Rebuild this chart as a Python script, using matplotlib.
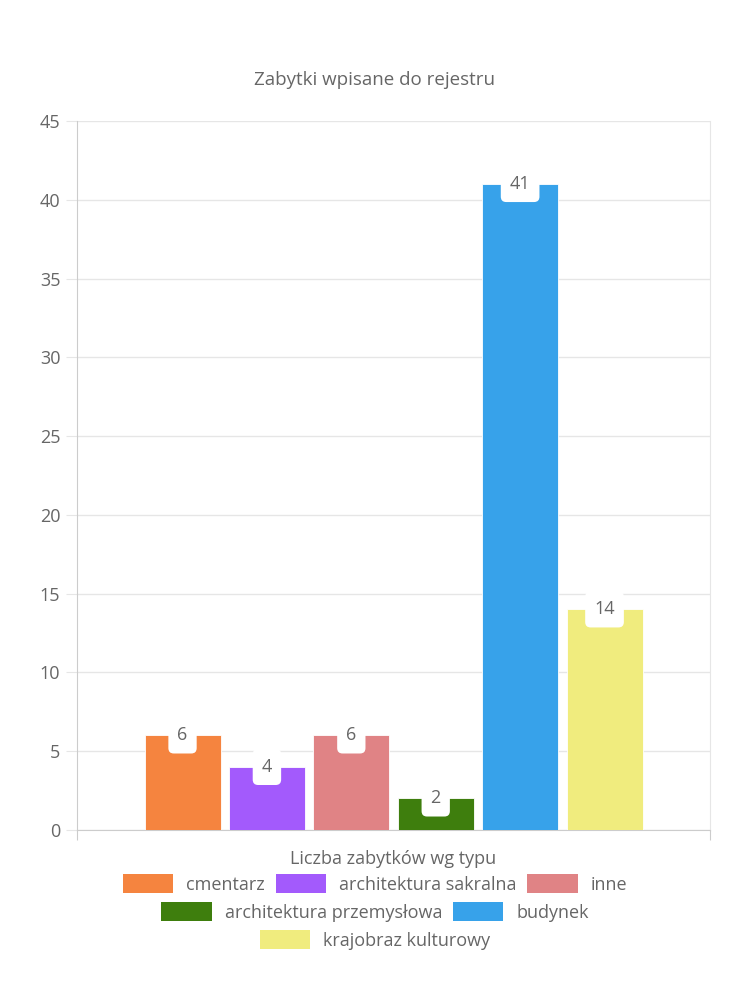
import matplotlib
matplotlib.use('Agg')
import matplotlib.pyplot as plt
from matplotlib.patches import Patch
import numpy as np

plt.rcParams['font.family'] = ['Open Sans', 'DejaVu Sans']

# ── Data ──────────────────────────────────────────────────────────────────
types  = ['cmentarz', 'architektura sakralna', 'inne',
          'architektura przemysłowa', 'budynek', 'krajobraz kulturowy']
counts = [6, 4, 6, 2, 41, 14]
colors = ['#F5843F', '#A35AFC', '#E08385', '#3E7E0D', '#37A2EA', '#F0EC7E']
yticks = [0, 5, 10, 15, 20, 25, 30, 35, 40, 45]

TXT   = '#666666'
GRID  = '#e6e6e6'
AXIS  = '#cccccc'

fig = plt.figure(figsize=(7.5, 10), dpi=100, facecolor='white')
ax = fig.add_axes([0.1027, 0.170, 0.844, 0.709])

# chart.js-like bar placement inside a single category
n = len(types)
slot = 0.8 / n
width = slot * 0.9
xpos = -0.4 + slot * (np.arange(n) + 0.5)

ax.bar(xpos, counts, width=width, color=colors, zorder=3,
       edgecolor='white', linewidth=0.6)

# value labels: white rounded box centred on the bar top
for x, v in zip(xpos, counts):
    ax.annotate(str(v), xy=(x, v), xytext=(0, 0), textcoords='offset points',
                ha='center', va='center', fontsize=13, color=TXT, zorder=5,
                bbox=dict(boxstyle='round,pad=0.5,rounding_size=0.3',
                          fc='white', ec='none'))

ax.set_xlim(-0.5, 0.5)
ax.set_ylim(0, 45)
ax.set_yticks(yticks)
ax.set_yticklabels([str(t) for t in yticks], fontsize=13, color=TXT)
ax.set_xticks([-0.5, 0.5])
ax.set_xticklabels(['', ''])
ax.tick_params(axis='y', length=8, color=GRID, pad=4)
ax.tick_params(axis='x', length=7, color=AXIS)
ax.yaxis.grid(True, color=GRID, lw=1, zorder=0)
ax.spines['top'].set_visible(False)
ax.spines['right'].set_color(GRID)
ax.spines['left'].set_color(AXIS)
ax.spines['bottom'].set_color(AXIS)

ax.set_xlabel('Liczba zabytków wg typu', fontsize=13, color=TXT, labelpad=4)

fig.text(0.5, 0.92, 'Zabytki wpisane do rejestru', ha='center', va='center',
         fontsize=13.5, color=TXT)

# legend: three centred rows like the original
rows = [[0, 1, 2], [3, 4], [5]]
row_y = [0.116, 0.088, 0.060]
for idx, yy in zip(rows, row_y):
    handles = [Patch(facecolor=colors[i], label=types[i]) for i in idx]
    fig.legend(handles=handles, loc='center', bbox_to_anchor=(0.5, yy),
               ncol=len(idx), frameon=False, fontsize=13,
               handlelength=2.8, handleheight=1.2, columnspacing=0.6,
               handletextpad=0.7, labelcolor=TXT)

plt.savefig('out.png', dpi=100, facecolor='white')
plt.close()
